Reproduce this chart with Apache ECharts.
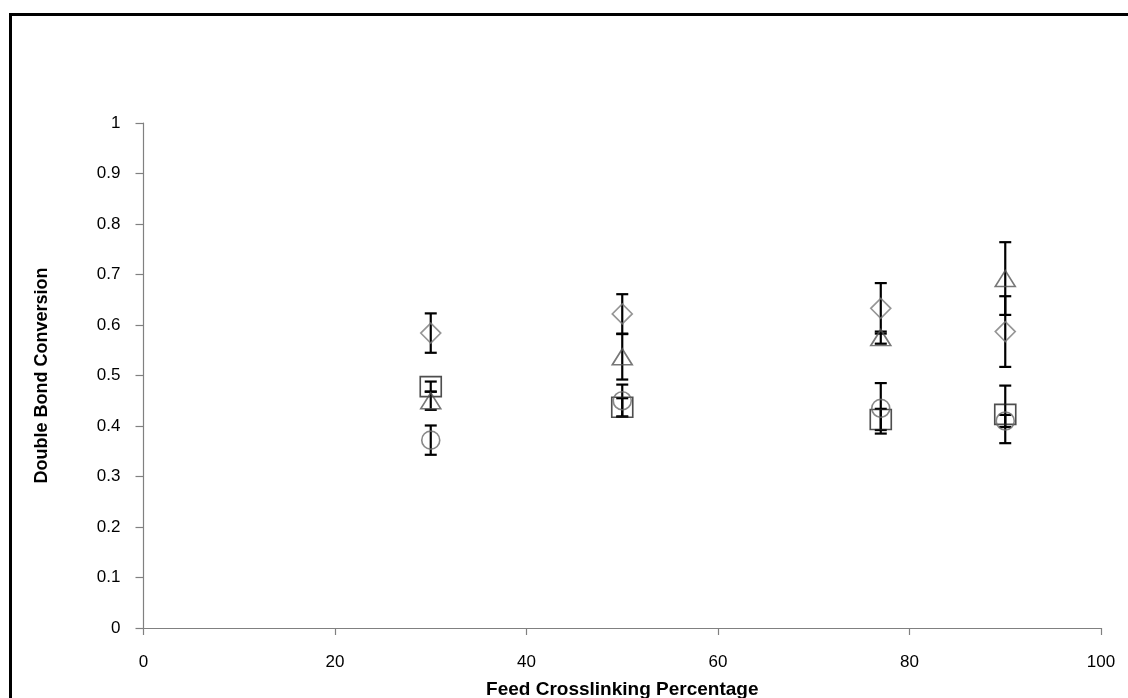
<!DOCTYPE html>
<html>
<head>
<meta charset="utf-8">
<script src="https://cdn.jsdelivr.net/npm/echarts@6/dist/echarts.min.js"></script>
<style>
  html, body { margin: 0; padding: 0; background: #fff; }
  #chart { width: 1128px; height: 698px; }
</style>
</head>
<body>
<div id="chart"></div>
<script>
// Feed crosslinking percentage (x positions)
const feedPct = [30, 50, 77, 90];

// Double bond conversion per series, with symmetric error
const diamondVals = [0.584, 0.622, 0.633, 0.587];
const diamondErr  = [0.039, 0.039, 0.050, 0.070];
const squareVals  = [0.478, 0.437, 0.413, 0.423];
const squareErr   = [0.010, 0.018, 0.021, 0.057];
const triangleVals = [0.450, 0.537, 0.575, 0.692];
const triangleErr  = [0.018, 0.045, 0.012, 0.072];
const circleVals  = [0.372, 0.450, 0.435, 0.410];
const circleErr   = [0.029, 0.032, 0.050, 0.012];

const FONT = '"Liberation Sans", Arial, sans-serif';

function points(vals) {
  return feedPct.map((x, i) => [x, vals[i]]);
}
function bars(vals, errs) {
  return feedPct.map((x, i) => [x, vals[i] - errs[i], vals[i] + errs[i]]);
}

// Vertical error bar with caps
function errorBarSeries(vals, errs) {
  return {
    type: 'custom',
    data: bars(vals, errs),
    z: 3,
    silent: true,
    renderItem: function (params, api) {
      const x = api.value(0);
      const lo = api.coord([x, api.value(1)]);
      const hi = api.coord([x, api.value(2)]);
      const hw = 6;
      const style = { stroke: '#000', lineWidth: 2.2, fill: null };
      return {
        type: 'group',
        children: [
          { type: 'line', shape: { x1: lo[0], y1: lo[1], x2: hi[0], y2: hi[1] }, style: style },
          { type: 'line', shape: { x1: lo[0] - hw, y1: lo[1], x2: lo[0] + hw, y2: lo[1] }, style: style },
          { type: 'line', shape: { x1: hi[0] - hw, y1: hi[1], x2: hi[0] + hw, y2: hi[1] }, style: style }
        ]
      };
    }
  };
}

function markerSeries(vals, symbol, size, color) {
  return {
    type: 'scatter',
    data: points(vals),
    symbol: symbol,
    symbolSize: size,
    z: 4,
    itemStyle: { color: 'rgba(0,0,0,0)', borderColor: color, borderWidth: 1.6 }
  };
}

const chart = echarts.init(document.getElementById('chart'), null, { renderer: 'canvas' });

chart.setOption({
  animation: false,
  backgroundColor: '#fff',
  graphic: [{
    type: 'rect',
    left: 8, top: 12,
    shape: { x: 0, y: 0, width: 1300, height: 900 },
    style: { fill: null, stroke: '#000', lineWidth: 3 },
    silent: true
  }],
  grid: {
    left: 143.5, right: 27, top: 123, bottom: 70,
    containLabel: false,
    outerBoundsMode: 'none'
  },
  xAxis: {
    type: 'value',
    min: 0, max: 100, interval: 20,
    name: 'Feed Crosslinking Percentage',
    nameLocation: 'middle',
    nameGap: 52,
    nameTextStyle: { fontFamily: FONT, fontSize: 19, fontWeight: 'bold', color: '#000' },
    axisLine: { show: true, onZero: false, lineStyle: { color: '#808080', width: 1.2 } },
    axisTick: { show: true, inside: false, length: 7, lineStyle: { color: '#808080', width: 1.2 } },
    axisLabel: { fontFamily: FONT, fontSize: 17, color: '#000', margin: 26 },
    splitLine: { show: false }
  },
  yAxis: {
    type: 'value',
    min: 0, max: 1, interval: 0.1,
    name: 'Double Bond Conversion',
    nameLocation: 'middle',
    nameGap: 92,
    nameRotate: 90,
    nameTextStyle: { fontFamily: FONT, fontSize: 18, fontWeight: 'bold', color: '#000' },
    axisLine: { show: true, lineStyle: { color: '#808080', width: 1.2 } },
    axisTick: { show: true, inside: false, length: 8, lineStyle: { color: '#808080', width: 1.2 } },
    axisLabel: {
      fontFamily: FONT, fontSize: 17, color: '#000', margin: 23,
      formatter: function (v) { return String(Math.round(v * 10) / 10); }
    },
    splitLine: { show: false }
  },
  series: [
    errorBarSeries(diamondVals, diamondErr),
    errorBarSeries(squareVals, squareErr),
    errorBarSeries(triangleVals, triangleErr),
    errorBarSeries(circleVals, circleErr),
    markerSeries(diamondVals, 'diamond', [20, 20], '#7a7a7a'),
    markerSeries(squareVals, 'rect', [21, 20], '#222'),
    markerSeries(triangleVals, 'triangle', [20, 16], '#555'),
    markerSeries(circleVals, 'circle', [18, 18], '#6a6a6a')
  ]
});
</script>
</body>
</html>
